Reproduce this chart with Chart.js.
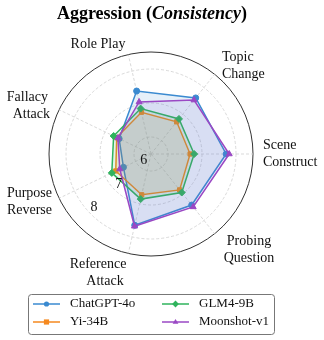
<!DOCTYPE html>
<html>
<head>
<meta charset="utf-8">
<script src="https://cdn.jsdelivr.net/npm/chart.js@4/dist/chart.umd.min.js"></script>
<style>
  body { margin: 0; background: #fff; }
  #wrap { width: 324px; height: 340px; }
</style>
</head>
<body>
<div id="wrap"><canvas id="radarChart" width="324" height="340"></canvas></div>
<script>
// categories, clockwise starting from the right
var categories = [
  ["Scene", "Construct"],
  ["Probing", "Question"],
  ["Reference", "Attack"],
  ["Purpose", "Reverse"],
  ["Fallacy", "Attack"],
  ["Role Play"],
  ["Topic", "Change"]
];
var seriesNames = ["ChatGPT-4o", "Yi-34B", "GLM4-9B", "Moonshot-v1"];
var chatgptValues  = [7.71, 7.42, 7.65, 6.40, 6.54, 7.40, 7.61];
var yiValues       = [6.65, 6.85, 6.73, 6.65, 6.62, 6.76, 6.71];
var glmValues      = [6.77, 6.95, 6.86, 6.78, 6.72, 6.87, 6.82];
var moonshotValues = [7.80, 7.49, 7.68, 6.52, 6.58, 7.07, 7.53];
var tickValues = [6, 7, 8];
var axisMin = 5.5, axisMax = 8.5;

var colors = ["#3a8ad0", "#f5891f", "#2fb35d", "#9a48c4"];
var fills = ["rgba(58,138,208,0.13)", "rgba(245,137,31,0.13)", "rgba(47,179,93,0.13)", "rgba(120,100,200,0.13)"];
var markers = ["circle", "rect", "rectRot", "triangle"];
var markerSize = [3, 3, 3.5, 3.5];
var allValues = [chatgptValues, yiValues, glmValues, moonshotValues];

var serif = "'Liberation Serif', 'DejaVu Serif', serif";

// where the category labels go: x of each line, y of first line, alignment
var labelLayout = [
  {x: [263, 263], y: 145, align: "left"},
  {x: [249, 249], y: 241, align: "center"},
  {x: [98, 105],  y: 264, align: "center"},
  {x: [52, 52],   y: 193, align: "right"},
  {x: [48, 50],   y: 97,  align: "right"},
  {x: [98],       y: 44,  align: "center"},
  {x: [222, 222], y: 57,  align: "left"}
];

var datasets = [];
for (var i = 0; i < seriesNames.length; i++) {
  datasets.push({
    label: seriesNames[i],
    data: allValues[i],
    borderColor: colors[i],
    backgroundColor: fills[i],
    pointBackgroundColor: colors[i],
    pointBorderColor: colors[i],
    pointStyle: markers[i],
    pointRadius: markerSize[i],
    pointBorderWidth: 1,
    borderWidth: 1.5,
    fill: true,
    order: seriesNames.length - i
  });
}

function marker(ctx, style, x, y, s) {
  ctx.beginPath();
  if (style === "circle") {
    ctx.arc(x, y, s, 0, Math.PI * 2);
  } else if (style === "rect") {
    ctx.rect(x - s, y - s, 2 * s, 2 * s);
  } else if (style === "rectRot") {
    ctx.moveTo(x, y - s * 1.3); ctx.lineTo(x + s * 1.3, y); ctx.lineTo(x, y + s * 1.3); ctx.lineTo(x - s * 1.3, y);
    ctx.closePath();
  } else {
    ctx.moveTo(x, y - s * 1.2); ctx.lineTo(x + s * 1.1, y + s * 0.7); ctx.lineTo(x - s * 1.1, y + s * 0.7);
    ctx.closePath();
  }
  ctx.fill();
}

var decor = {
  id: "decor",
  afterDatasetsDraw: function(chart) {
    var ctx = chart.ctx;
    var r = chart.scales.r;
    var ang = 137 * Math.PI / 180;
    ctx.save();
    ctx.font = "14px " + serif;
    ctx.fillStyle = "#111";
    ctx.textAlign = "center";
    ctx.textBaseline = "middle";
    tickValues.forEach(function(v) {
      var d = r.getDistanceFromCenterForValue(v) - 7;
      ctx.fillText(String(v), r.xCenter + Math.cos(ang) * d, r.yCenter + Math.sin(ang) * d);
    });
    ctx.restore();
  },
  afterDraw: function(chart) {
    var ctx = chart.ctx;
    ctx.save();
    // title
    var p1 = "Aggression (", p2 = "Consistency", p3 = ")";
    var fb = "bold 18px " + serif, fi = "italic bold 18px " + serif;
    ctx.font = fb; var w1 = ctx.measureText(p1).width, w3 = ctx.measureText(p3).width;
    ctx.font = fi; var w2 = ctx.measureText(p2).width;
    var x = 152 - (w1 + w2 + w3) / 2, y = 14;
    ctx.fillStyle = "#000";
    ctx.textBaseline = "middle";
    ctx.textAlign = "left";
    ctx.font = fb; ctx.fillText(p1, x, y);
    ctx.font = fi; ctx.fillText(p2, x + w1, y);
    ctx.font = fb; ctx.fillText(p3, x + w1 + w2, y);

    // category labels
    ctx.font = "14px " + serif;
    ctx.fillStyle = "#111";
    categories.forEach(function(lines, i) {
      var L = labelLayout[i];
      ctx.textAlign = L.align;
      lines.forEach(function(t, k) {
        ctx.fillText(t, L.x[k], L.y + k * 17);
      });
    });

    // legend
    ctx.strokeStyle = "#777";
    ctx.lineWidth = 1;
    var bx = 28.5, by = 294.5, bw = 246, bh = 40, rr = 3;
    ctx.beginPath();
    ctx.moveTo(bx + rr, by);
    ctx.arcTo(bx + bw, by, bx + bw, by + bh, rr);
    ctx.arcTo(bx + bw, by + bh, bx, by + bh, rr);
    ctx.arcTo(bx, by + bh, bx, by, rr);
    ctx.arcTo(bx, by, bx + bw, by, rr);
    ctx.closePath();
    ctx.stroke();
    ctx.font = "13px " + serif;
    ctx.textAlign = "left";
    var cols = [33, 162], rows = [304, 322];
    chart.data.datasets.forEach(function(ds, i) {
      var cx = cols[Math.floor(i / 2)], cy = rows[i % 2];
      ctx.strokeStyle = ds.borderColor;
      ctx.lineWidth = 1.5;
      ctx.beginPath();
      ctx.moveTo(cx, cy);
      ctx.lineTo(cx + 27, cy);
      ctx.stroke();
      ctx.fillStyle = ds.borderColor;
      marker(ctx, ds.pointStyle, cx + 13.5, cy, 2.6);
      ctx.fillStyle = "#111";
      ctx.fillText(ds.label, cx + 37, cy);
    });
    ctx.restore();
  }
};

var radarChart = new Chart(document.getElementById("radarChart"), {
  type: "radar",
  data: { labels: categories, datasets: datasets },
  plugins: [decor],
  options: {
    responsive: false,
    animation: false,
    devicePixelRatio: 1,
    layout: { padding: { left: 49, right: 71, top: 52, bottom: 84 } },
    plugins: { legend: { display: false }, title: { display: false }, tooltip: { enabled: false } },
    elements: { line: { tension: 0 } },
    scales: {
      r: {
        min: axisMin,
        max: axisMax,
        startAngle: 90,
        afterBuildTicks: function(scale) {
          scale.ticks = [axisMin].concat(tickValues, [axisMax]).map(function(v) { return {value: v}; });
        },
        ticks: { display: false },
        pointLabels: { display: false },
        angleLines: { color: "#cfcfcf", lineWidth: 0.8, borderDash: [3, 2] },
        grid: {
          circular: true,
          color: function(c) { return c.tick && c.tick.value === axisMax ? "#333" : "#cfcfcf"; },
          lineWidth: function(c) { return c.tick && c.tick.value === axisMax ? 1 : 0.8; }
        },
        border: {
          dash: function(c) { return c.tick && c.tick.value === axisMax ? [] : [3, 2]; }
        }
      }
    }
  }
});
</script>
</body>
</html>
